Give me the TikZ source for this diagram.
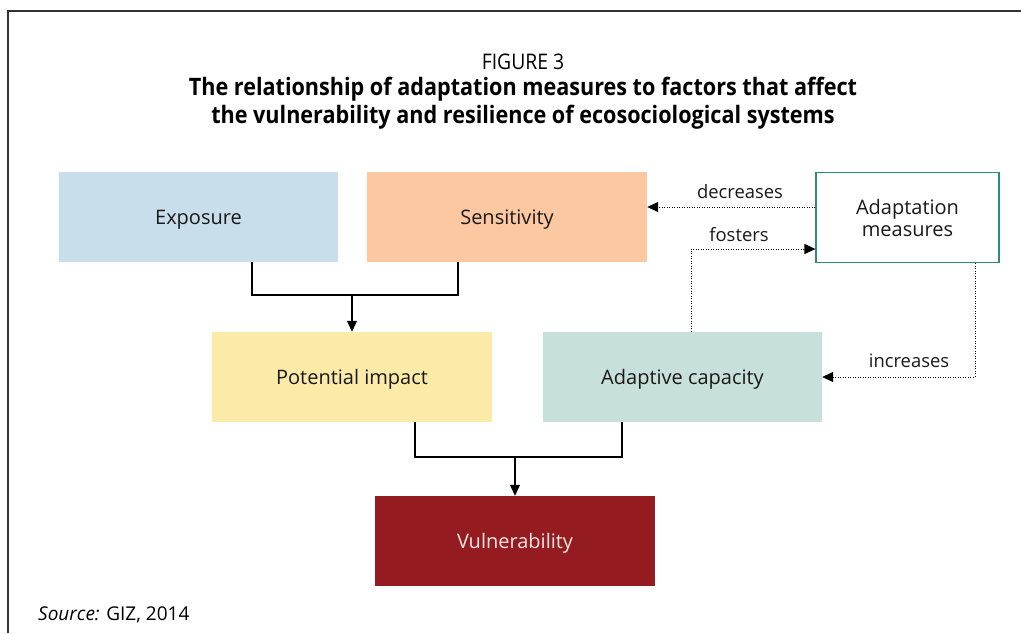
\documentclass[tikz,border=0pt]{standalone}
\usepackage{fontspec}
\setmainfont{Open Sans}
\newfontfamily\condfont[FakeStretch=0.9]{Open Sans}
\usetikzlibrary{arrows.meta,calc}
\definecolor{cexpo}{HTML}{C8DEEA}
\definecolor{csens}{HTML}{FBC8A2}
\definecolor{cpot}{HTML}{FBEAA8}
\definecolor{cadcap}{HTML}{C8E0DC}
\definecolor{cadm}{HTML}{2E8B7A}
\definecolor{cvul}{HTML}{941B1F}
\definecolor{cvultext}{HTML}{F5E6E6}
\tikzset{
  boxbase/.style={rectangle, minimum width=280pt, minimum height=90pt, inner sep=0pt, font=\fontsize{20}{22}\selectfont, text=black!90},
  box/.style={boxbase, text height=16pt, text depth=2pt},
  link/.style={line width=1.1pt, black},
  arr/.style={link, -{Triangle[length=11pt,width=10pt]}},
  dotarr/.style={line width=1pt, black, dash pattern=on 1pt off 1.5pt, -{Triangle[length=11pt,width=10pt]}},
  lab/.style={font=\fontsize{18.4}{20}\selectfont, text=black!90, inner sep=0pt}
}
\begin{document}
\begin{tikzpicture}[x=1pt,y=-1pt]
\useasboundingbox (0,0) rectangle (1021,633);
% frame
\draw[line width=2pt, black!80] (8,633) -- (8,11) -- (1021,11);
% title
\node[font=\condfont\fontsize{21.5}{24}\selectfont, inner sep=0pt] (fig) at (523,62) {FIGURE 3};
\node[font=\condfont\bfseries\fontsize{24}{28}\selectfont, align=center, inner sep=0pt] (title) at (523,103)
  {The relationship of adaptation measures to factors that affect\\the vulnerability and resilience of ecosociological systems};
% boxes
\node[box, fill=cexpo, minimum width=279pt] (expo) at (198.5,217) {Exposure};
\node[box, fill=csens] (sens) at (507,217) {Sensitivity};
\node[box, fill=cpot] (pot) at (352,377) {Potential impact};
\node[box, fill=cadcap, minimum width=279pt] (adcap) at (682.5,377) {Adaptive capacity};
\node[boxbase, draw=cadm, line width=1.2pt, fill=white, minimum width=183pt, minimum height=90pt, align=center] (adm) at (907.5,217.5) {Adaptation\\measures};
\node[box, fill=cvul, text=cvultext] (vul) at (515,541) {Vulnerability};
% solid connectors
\coordinate (j1) at (352,295);
\coordinate (j2) at (515,457);
\draw[link] ([xshift=53.5pt]expo.south) |- (j1) -| ([xshift=-49pt]sens.south);
\draw[arr] (j1) -- (pot.north);
\draw[link] ([xshift=63pt]pot.south) |- (j2) -| ([xshift=-60.5pt]adcap.south);
\draw[arr] (j2) -- (vul.north);
% dotted connectors
\draw[dotarr] ([yshift=10.5pt]adm.west) coordinate (d0) -- (sens.east |- d0);
\draw[dotarr] ([xshift=8.5pt]adcap.north) |- ([yshift=-31.5pt]adm.west);
\draw[dotarr] ([xshift=67.5pt]adm.south) |- (adcap.east);
% labels
\node[lab] (ldec) at (740,192) {decreases};
\node[lab] (lfos) at (739,235) {fosters};
\node[lab] (linc) at (909,361) {increases};
% source
\node[anchor=base west, inner sep=0pt, font=\fontsize{19}{21}\selectfont] (src) at (38,620) {\textit{Source:} GIZ, 2014};
\end{tikzpicture}
\end{document}
